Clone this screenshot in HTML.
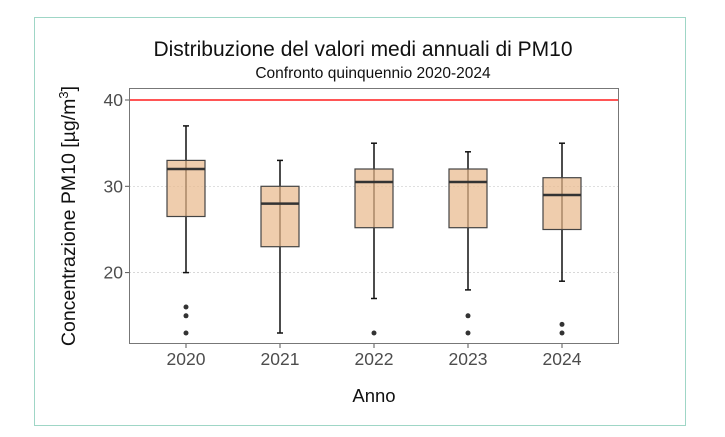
<!DOCTYPE html>
<html><head><meta charset="utf-8"><style>
html,body{margin:0;padding:0;background:#fff;}
svg{display:block;font-family:"Liberation Sans",Arial,sans-serif;}
</style></head><body>
<svg width="725" height="437" viewBox="0 0 725 437">
<rect x="34.5" y="17.5" width="651" height="408" fill="#fff" stroke="#9fd6c6" stroke-width="1"/>
<text x="363" y="56" font-size="21" text-anchor="middle" fill="#111">Distribuzione del valori medi annuali di PM10</text>
<text x="373" y="78" font-size="15.5" text-anchor="middle" fill="#111">Confronto quinquennio 2020-2024</text>
<line x1="129" y1="186.3" x2="618" y2="186.3" stroke="#ccc" stroke-width="0.7" stroke-dasharray="2,2"/>
<line x1="129" y1="272.6" x2="618" y2="272.6" stroke="#ccc" stroke-width="0.7" stroke-dasharray="2,2"/>
<line x1="129" y1="100" x2="618" y2="100" stroke="#f55" stroke-width="2"/>
<g stroke="#111" stroke-width="1.5" fill="none">
<line x1="186" y1="125.9" x2="186" y2="272.6"/><line x1="183" y1="125.9" x2="189" y2="125.9"/><line x1="183" y1="272.6" x2="189" y2="272.6"/>
<line x1="280" y1="160.4" x2="280" y2="333"/><line x1="277" y1="160.4" x2="283" y2="160.4"/><line x1="277" y1="333" x2="283" y2="333"/>
<line x1="374" y1="143.2" x2="374" y2="298.5"/><line x1="371" y1="143.2" x2="377" y2="143.2"/><line x1="371" y1="298.5" x2="377" y2="298.5"/>
<line x1="468" y1="151.8" x2="468" y2="289.9"/><line x1="465" y1="151.8" x2="471" y2="151.8"/><line x1="465" y1="289.9" x2="471" y2="289.9"/>
<line x1="562" y1="143.2" x2="562" y2="281.2"/><line x1="559" y1="143.2" x2="565" y2="143.2"/><line x1="559" y1="281.2" x2="565" y2="281.2"/>
</g>
<g fill="#e8b88a" fill-opacity="0.7" stroke="#444" stroke-width="1.2">
<rect x="167" y="160.4" width="38" height="56.1"/>
<rect x="261" y="186.3" width="38" height="60.4"/>
<rect x="355" y="169" width="38" height="58.7"/>
<rect x="449" y="169" width="38" height="58.7"/>
<rect x="543" y="177.7" width="38" height="51.8"/>
</g>
<g stroke="#333" stroke-width="2.5">
<line x1="167" y1="169" x2="205" y2="169"/>
<line x1="261" y1="203.6" x2="299" y2="203.6"/>
<line x1="355" y1="182" x2="393" y2="182"/>
<line x1="449" y1="182" x2="487" y2="182"/>
<line x1="543" y1="195" x2="581" y2="195"/>
</g>
<g fill="#333">
<circle cx="186" cy="307" r="2.5"/><circle cx="186" cy="315.8" r="2.5"/><circle cx="186" cy="333" r="2.5"/>
<circle cx="374" cy="333" r="2.5"/>
<circle cx="468" cy="315.8" r="2.5"/><circle cx="468" cy="333" r="2.5"/>
<circle cx="562" cy="324.4" r="2.5"/><circle cx="562" cy="333" r="2.5"/>
</g>
<rect x="129.5" y="88.5" width="489" height="255" fill="none" stroke="#777" stroke-width="1"/>
<g stroke="#555" stroke-width="1">
<line x1="125" y1="100" x2="129" y2="100"/><line x1="125" y1="186.3" x2="129" y2="186.3"/><line x1="125" y1="272.6" x2="129" y2="272.6"/>
<line x1="186" y1="344" x2="186" y2="348"/><line x1="280" y1="344" x2="280" y2="348"/><line x1="374" y1="344" x2="374" y2="348"/><line x1="468" y1="344" x2="468" y2="348"/><line x1="562" y1="344" x2="562" y2="348"/>
</g>
<g font-size="17.5" fill="#4d4d4d">
<text x="123" y="106" text-anchor="end">40</text>
<text x="123" y="192.3" text-anchor="end">30</text>
<text x="123" y="278.6" text-anchor="end">20</text>
<g text-anchor="middle">
<text x="186" y="365">2020</text><text x="280" y="365">2021</text><text x="374" y="365">2022</text><text x="468" y="365">2023</text><text x="562" y="365">2024</text>
</g>
</g>
<text x="374" y="402" font-size="18.5" text-anchor="middle" fill="#111">Anno</text>
<text transform="translate(75,216) rotate(-90)" font-size="19.5" text-anchor="middle" fill="#111">Concentrazione PM10 [µg/m<tspan font-size="13" dy="-7">3</tspan><tspan dy="7">]</tspan></text>
</svg>
</body></html>
